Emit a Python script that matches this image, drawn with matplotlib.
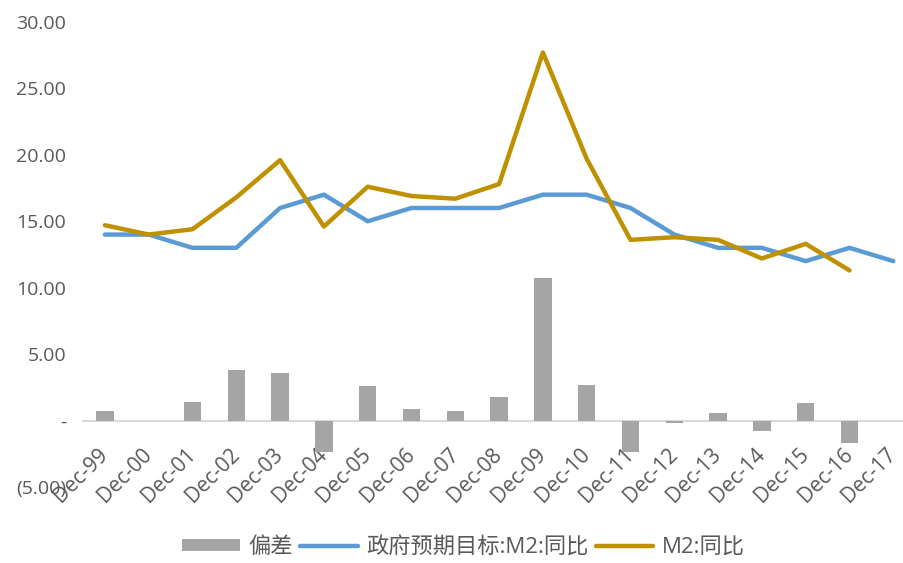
import numpy as np
import matplotlib
matplotlib.use("Agg")
from matplotlib import pyplot as plt
from matplotlib.ticker import FuncFormatter, MultipleLocator

plt.rcParams['font.family'] = ['Open Sans', 'Noto Sans CJK SC', 'DejaVu Sans']

# data
categories = ["Dec-99", "Dec-00", "Dec-01", "Dec-02", "Dec-03", "Dec-04", "Dec-05",
              "Dec-06", "Dec-07", "Dec-08", "Dec-09", "Dec-10", "Dec-11", "Dec-12",
              "Dec-13", "Dec-14", "Dec-15", "Dec-16", "Dec-17"]
target_m2 = [14, 14, 13, 13, 16, 17, 15, 16, 16, 16, 17, 17, 16, 14, 13, 13, 12, 13, 12]
actual_m2 = [14.7, 14.0, 14.4, 16.8, 19.6, 14.6, 17.6, 16.9, 16.7, 17.8, 27.7, 19.7,
             13.6, 13.8, 13.6, 12.2, 13.3, 11.3, np.nan]
deviation = [0.7, 0.0, 1.4, 3.8, 3.6, -2.4, 2.6, 0.9, 0.7, 1.8, 10.7, 2.7,
             -2.4, -0.2, 0.6, -0.8, 1.3, -1.7, np.nan]

TEXT = '#595959'
x = np.arange(len(categories))

fig = plt.figure(figsize=(9.04, 5.63), dpi=100)
# plot area runs past the right edge, as in the cropped reference
ax = fig.add_axes([0.0918, 0.135, 0.9206, 0.826])

bars = ax.bar(x, deviation, width=0.4, color='#A5A5A5', label='偏差', zorder=2)
l1, = ax.plot(x, target_m2, color='#5B9BD5', linewidth=3.2, solid_joinstyle='round',
              solid_capstyle='round', label='政府预期目标:M2:同比', zorder=3)
l2, = ax.plot(x, actual_m2, color='#BF9000', linewidth=3.2, solid_joinstyle='round',
              solid_capstyle='round', label='M2:同比', zorder=4)

ax.set_xlim(-0.5, len(categories) - 0.5)
ax.set_ylim(-5, 30)
ax.yaxis.set_major_locator(MultipleLocator(5))


def acct(v, _):
    if abs(v) < 1e-9:
        return '-'
    if v < 0:
        return f'({-v:.2f})'
    return f'{v:.2f}'


ax.yaxis.set_major_formatter(FuncFormatter(acct))

for side in ['top', 'right', 'left']:
    ax.spines[side].set_visible(False)
ax.spines['bottom'].set_position(('data', 0))
ax.spines['bottom'].set_color('#D9D9D9')
ax.spines['bottom'].set_linewidth(1.5)
ax.spines['bottom'].set_zorder(1)

ax.set_xticks(x)
ax.set_xticklabels(categories, rotation=45, ha='right', va='center', rotation_mode='anchor')
ax.tick_params(axis='x', length=0, pad=22, labelsize=15, labelcolor=TEXT)
ax.tick_params(axis='y', length=0, pad=12, labelsize=14, labelcolor=TEXT)

fig.legend([bars, l1, l2], ['偏差', '政府预期目标:M2:同比', 'M2:同比'],
           loc='center', bbox_to_anchor=(0.513, 0.027), ncol=3, frameon=False,
           fontsize=16, labelcolor=TEXT, handlelength=2.6, handleheight=0.45,
           handletextpad=0.4, columnspacing=0.3)

plt.savefig('out.png', dpi=100)
